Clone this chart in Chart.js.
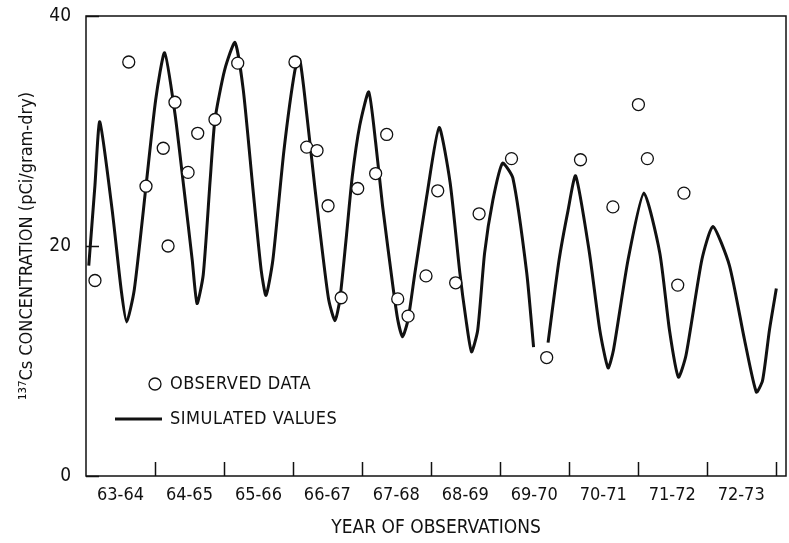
<!DOCTYPE html>
<html>
<head>
<meta charset="utf-8">
<style>
  html, body { margin: 0; padding: 0; background: #fff; overflow: hidden; }
  #wrap { width: 789px; height: 543px; position: relative; }
</style>
<script src="https://cdn.jsdelivr.net/npm/chart.js@4.4.3/dist/chart.umd.min.js"></script>
</head>
<body>
<div id="wrap"><canvas id="cs137"></canvas></div>
<script>
// simulated 137Cs curve (year, pCi/gram-dry); null = break in the drawn line
const simYears = [63.04, 63.13, 63.20, 63.38, 63.51, 63.59, 63.70, 63.87, 64.01, 64.14,
  64.29, 64.42, 64.54, 64.61, 64.70, 64.80, 64.87, 65.01, 65.16, 65.28,
  65.42, 65.54, 65.61, 65.71, 65.87, 66.03, 66.10, 66.20, 66.32, 66.43,
  66.52, 66.61, 66.68, 66.77, 66.86, 66.97, 67.10, 67.20, 67.30, 67.45,
  67.52, 67.59, 67.67, 67.77, 67.94, 68.12, 68.28, 68.42, 68.51, 68.59,
  68.68, 68.78, 68.90, 69.04, 69.19, 69.39, 69.49, 69.60, 69.70, 69.86,
  69.99, 70.10, 70.30, 70.45, 70.57, 70.65, 70.86, 71.09, 71.32, 71.46,
  71.59, 71.70, 71.93, 72.09, 72.33, 72.55, 72.72, 72.81, 72.91, 73.01];
const simValues = [18.3, 25.3, 30.8, 23.1, 16.2, 13.4, 16.2, 25.2, 32.7, 36.8,
  31.5, 25.0, 18.8, 15.0, 17.5, 25.7, 31.0, 35.3, 37.7, 33.6,
  25.0, 17.9, 15.7, 18.8, 28.3, 35.3, 36.2, 31.5, 25.0, 19.4,
  15.3, 13.5, 15.3, 20.5, 26.0, 30.5, 33.4, 29.0, 23.5, 16.5,
  13.6, 12.1, 13.6, 17.7, 24.3, 30.3, 25.5, 17.7, 13.6, 10.8,
  12.7, 19.4, 24.0, 27.2, 25.9, 17.7, 11.2, null, 11.6, 18.8,
  23.1, 26.1, 19.4, 12.7, 9.4, 11.0, 18.8, 24.6, 19.4, 12.7,
  8.6, 10.5, 18.8, 21.7, 18.3, 11.8, 7.3, 8.3, 12.7, 16.3];

// observed data points
const obsYears = [63.13, 63.62, 63.87, 64.12, 64.19, 64.29, 64.48, 64.62, 64.87, 65.20,
  66.03, 66.20, 66.35, 66.51, 66.70, 66.94, 67.20, 67.36, 67.52, 67.67,
  67.93, 68.10, 68.36, 68.70, 69.17, 69.68, 70.17, 70.64, 71.01, 71.14,
  71.58, 71.67];
const obsValues = [17.0, 36.0, 25.2, 28.5, 20.0, 32.5, 26.4, 29.8, 31.0, 35.9,
  36.0, 28.6, 28.3, 23.5, 15.5, 25.0, 26.3, 29.7, 15.4, 13.9,
  17.4, 24.8, 16.8, 22.8, 27.6, 10.3, 27.5, 23.4, 32.3, 27.6,
  16.6, 24.6];

const xTickLabels = ['63-64', '64-65', '65-66', '66-67', '67-68', '68-69', '69-70', '70-71', '71-72', '72-73'];
const xTickMarks = [64, 65, 66, 67, 68, 69, 70, 71, 72, 73];
const yTicks = [0, 20, 40];

const FONT = "'Liberation Sans Narrow', 'DejaVu Sans Condensed', 'Liberation Sans', sans-serif";

const simulated = simYears.map((x, i) => ({ x: x, y: simValues[i] }));
const observed = obsYears.map((x, i) => ({ x: x, y: obsValues[i] }));

// frame, inward tick marks and the in-plot legend
const decorations = {
  id: 'decorations',
  afterDraw(chart) {
    const ctx = chart.ctx;
    const a = chart.chartArea;
    const xs = chart.scales.x, ys = chart.scales.y;
    ctx.save();
    ctx.strokeStyle = '#111';
    ctx.lineWidth = 1.5;
    ctx.strokeRect(a.left, a.top, a.right - a.left, a.bottom - a.top);
    ctx.beginPath();
    xTickMarks.forEach(v => {
      const px = Math.round(xs.getPixelForValue(v)) + 0.5;
      ctx.moveTo(px, a.bottom);
      ctx.lineTo(px, a.bottom - 14);
    });
    yTicks.forEach(v => {
      const py = Math.round(ys.getPixelForValue(v)) + 0.5;
      ctx.moveTo(a.left, py);
      ctx.lineTo(a.left + 13, py);
    });
    ctx.stroke();

    // legend
    const lx = a.left + 69, ly1 = a.top + 368, ly2 = a.top + 403;
    ctx.beginPath();
    ctx.fillStyle = '#fff';
    ctx.lineWidth = 1.3;
    ctx.arc(lx, ly1, 6, 0, Math.PI * 2);
    ctx.fill();
    ctx.stroke();
    ctx.beginPath();
    ctx.lineWidth = 3;
    ctx.moveTo(a.left + 29, ly2);
    ctx.lineTo(a.left + 76, ly2);
    ctx.stroke();
    ctx.fillStyle = '#111';
    ctx.font = '18px ' + FONT;
    ctx.textBaseline = 'middle';
    ctx.letterSpacing = '0.5px';
    ctx.fillText('OBSERVED DATA', a.left + 84, ly1);
    ctx.fillText('SIMULATED VALUES', a.left + 84, ly2);
    ctx.restore();
  }
};

new Chart(document.getElementById('cs137'), {
  type: 'scatter',
  data: {
    datasets: [
      {
        label: 'OBSERVED DATA',
        data: observed,
        pointStyle: 'circle',
        pointRadius: 6,
        pointBorderWidth: 1.3,
        pointBackgroundColor: '#fff',
        pointBorderColor: '#111',
        showLine: false,
        order: 0
      },
      {
        label: 'SIMULATED VALUES',
        data: simulated,
        showLine: true,
        spanGaps: false,
        pointRadius: 0,
        borderColor: '#111',
        borderWidth: 3,
        tension: 0.2,
        order: 1
      }
    ]
  },
  options: {
    responsive: true,
    maintainAspectRatio: false,
    animation: false,
    layout: { autoPadding: false, padding: { top: 16, right: 3, left: 0, bottom: 0 } },
    plugins: { legend: { display: false }, tooltip: { enabled: false } },
    scales: {
      x: {
        type: 'linear',
        min: 63,
        max: 73.15,
        afterFit(scale) {
          scale.height = 67;
          scale.paddingLeft = 0;
          scale.paddingRight = 0;
        },
        afterBuildTicks(scale) {
          scale.ticks = xTickLabels.map((l, i) => ({ value: 63.5 + i }));
        },
        ticks: {
          autoSkip: false,
          maxRotation: 0,
          padding: 9,
          color: '#111',
          font: { family: FONT, size: 18 },
          callback: (v, i) => xTickLabels[i]
        },
        grid: { display: false, drawTicks: false },
        border: { display: false },
        title: {
          display: true,
          text: 'YEAR OF OBSERVATIONS',
          color: '#111',
          font: { family: FONT, size: 19 },
          padding: { top: 0, bottom: 4 }
        }
      },
      y: {
        min: 0,
        max: 40,
        afterFit(scale) {
          scale.width = 86;
          scale.paddingTop = 0;
          scale.paddingBottom = 0;
        },
        afterBuildTicks(scale) {
          scale.ticks = yTicks.map(v => ({ value: v }));
        },
        ticks: {
          padding: 15,
          color: '#111',
          font: { family: FONT, size: 19 }
        },
        grid: { display: false, drawTicks: false },
        border: { display: false },
        title: {
          display: true,
          text: '¹³⁷Cs CONCENTRATION (pCi/gram-dry)',
          color: '#111',
          font: { family: FONT, size: 18 },
          padding: { top: 17, bottom: 0 }
        }
      }
    }
  },
  plugins: [decorations]
});
</script>
</body>
</html>
